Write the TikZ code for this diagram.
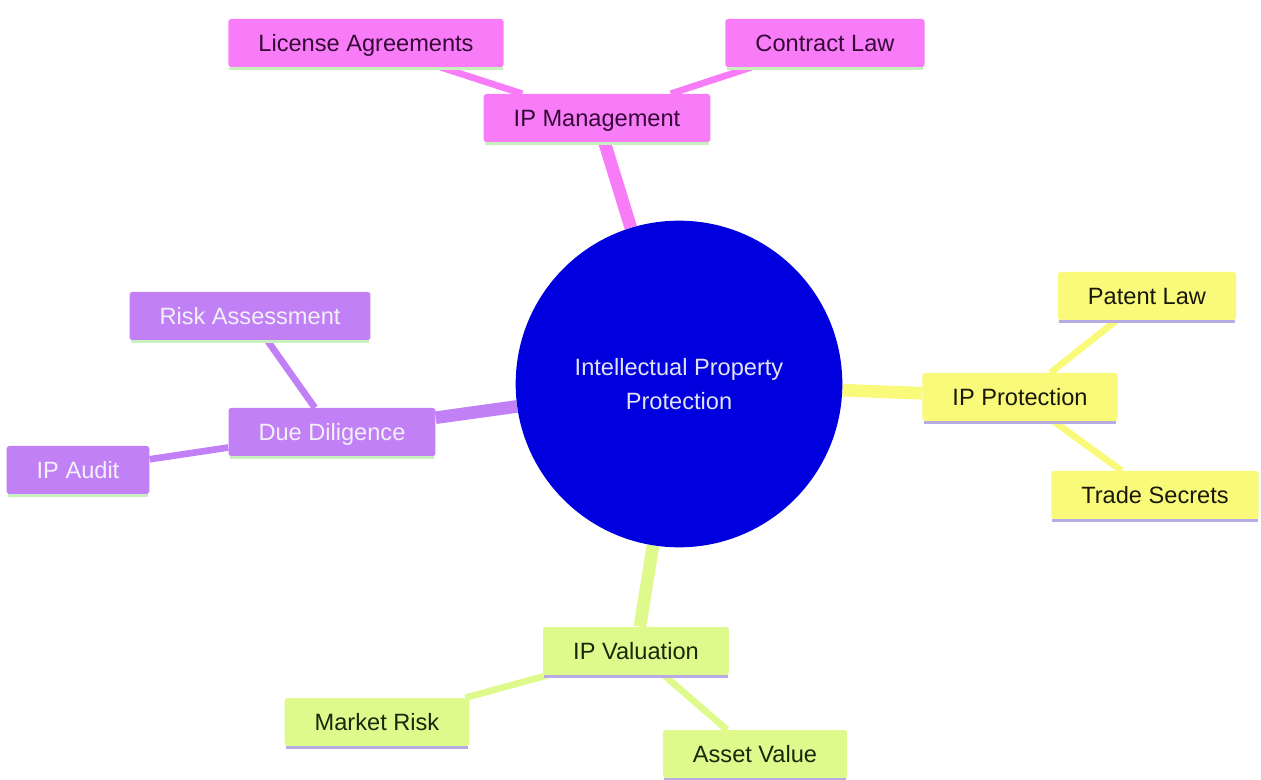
\documentclass[tikz,border=0pt]{standalone}
\usepackage{fontspec}
\setmainfont{Liberation Sans}
\usetikzlibrary{backgrounds}

\definecolor{rootblue}{RGB}{0,0,222}
\definecolor{pinkfill}{RGB}{248,124,248}
\definecolor{lilacfill}{RGB}{194,128,246}
\definecolor{yellowfill}{RGB}{250,250,122}
\definecolor{limefill}{RGB}{222,250,140}
\definecolor{mintline}{RGB}{200,240,190}
\definecolor{lavline}{RGB}{182,172,226}

\begin{document}
\begin{tikzpicture}[x=0.75pt,y=0.75pt,yscale=-1,xscale=1,
  every node/.style={font=\fontsize{17.7}{26}\selectfont},
  topic/.style={rectangle, rounded corners=2pt, inner xsep=22.5pt, inner ysep=0pt, minimum height=36pt, text height=12.6pt, text depth=0pt},
  pinkbox/.style={topic, fill=pinkfill, text={rgb,255:red,55;green,8;blue,55}},
  lilacbox/.style={topic, fill=lilacfill, text={rgb,255:red,242;green,240;blue,248}},
  yellowbox/.style={topic, fill=yellowfill, text={rgb,255:red,25;green,25;blue,10}},
  limebox/.style={topic, fill=limefill, text={rgb,255:red,25;green,40;blue,10}},
  trunk/.style={line width=9.5pt},
  twig/.style={line width=5pt},
  uline/.style={line width=2.2pt}]
\useasboundingbox (0,0) rectangle (1261,780);

%Root circle
\node [circle, fill=rootblue, minimum size=245pt, align=center, text={rgb,255:red,226;green,226;blue,244}] (root) at (679,384) {Intellectual Property\\Protection};

%Branch: IP Management
\node [pinkbox] (mgmt) at (597,118) {IP Management};
\node [pinkbox] (license) at (366,43) {License Agreements};
\node [pinkbox] (contract) at (825,43) {Contract Law};

%Branch: Due Diligence
\node [lilacbox] (diligence) at (332,432) {Due Diligence};
\node [lilacbox] (risk) at (250,316) {Risk Assessment};
\node [lilacbox] (audit) at (78,470) {IP Audit};

%Branch: IP Protection
\node [yellowbox] (protect) at (1020,397) {IP Protection};
\node [yellowbox] (patent) at (1147,296) {Patent Law};
\node [yellowbox] (secrets) at (1155,495) {Trade Secrets};

%Branch: IP Valuation
\node [limebox] (valuation) at (636,651) {IP Valuation};
\node [limebox] (market) at (377,722) {Market Risk};
\node [limebox] (asset) at (755,754) {Asset Value};

%underlines
\foreach \n in {mgmt,license,contract,diligence,risk,audit}
  \draw [uline, mintline] ([xshift=1pt,yshift=1pt]\n.south west) -- ([xshift=-1pt,yshift=1pt]\n.south east);
\foreach \n in {protect,patent,secrets,valuation,market,asset}
  \draw [uline, lavline] ([xshift=1pt,yshift=1pt]\n.south west) -- ([xshift=-1pt,yshift=1pt]\n.south east);

%Connectors
\begin{pgfonlayer}{background}
\draw [trunk, pinkfill] (root) -- (mgmt);
\draw [twig, pinkfill] (mgmt) -- (license);
\draw [twig, pinkfill] (mgmt) -- (contract);
\draw [trunk, lilacfill] (root) -- (diligence);
\draw [twig, lilacfill] (diligence) -- (risk);
\draw [twig, lilacfill] (diligence) -- (audit);
\draw [trunk, yellowfill] (root) -- (protect);
\draw [twig, yellowfill] (protect) -- (patent);
\draw [twig, yellowfill] (protect) -- (secrets);
\draw [trunk, limefill] (root) -- (valuation);
\draw [twig, limefill] (valuation) -- (market);
\draw [twig, limefill] (valuation) -- (asset);
\end{pgfonlayer}

\end{tikzpicture}
\end{document}
